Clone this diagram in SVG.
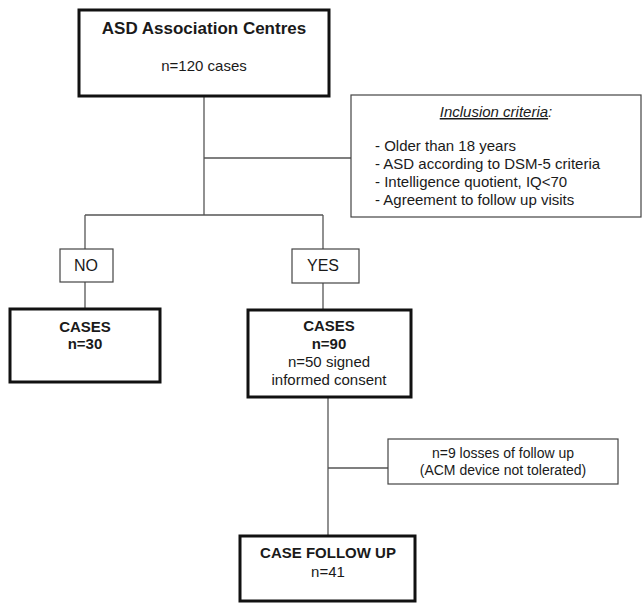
<svg xmlns="http://www.w3.org/2000/svg" width="643" height="604" viewBox="0 0 643 604">
<style>
text{font-family:"Liberation Sans",Arial,sans-serif;fill:#1a1a1a;text-anchor:middle}
text.l{text-anchor:start}
.b{font-weight:bold}
.thick{fill:#fff;stroke:#111;stroke-width:3}
.thin{fill:#fff;stroke:#444;stroke-width:1.2}
.ln{stroke:#555;stroke-width:1.3;fill:none}
</style>
<rect width="643" height="604" fill="#fff"/>
<g id="connectors">
<line class="ln" x1="204" y1="97" x2="204" y2="215"/>
<line class="ln" x1="204" y1="158" x2="351" y2="158"/>
<line class="ln" x1="85" y1="215" x2="323" y2="215"/>
<line class="ln" x1="85" y1="215" x2="85" y2="249"/>
<line class="ln" x1="85" y1="282" x2="85" y2="309"/>
<line class="ln" x1="323" y1="215" x2="323" y2="249"/>
<line class="ln" x1="323" y1="283" x2="323" y2="310"/>
<line class="ln" x1="328" y1="397" x2="328" y2="536"/>
<line class="ln" x1="328" y1="468" x2="388" y2="468"/>
</g>
<g id="asd-centres">
<rect class="thick" x="79" y="10" width="250" height="86"/>
<text class="b" x="204" y="34" font-size="17">ASD Association Centres</text>
<text x="204" y="71" font-size="15">n=120 cases</text>
</g>
<g id="inclusion">
<rect class="thin" x="351" y="95" width="290" height="122"/>
<text x="496" y="117" font-size="15" font-style="italic"><tspan text-decoration="underline">Inclusion criteria</tspan>:</text>
<text class="l" x="375" y="151" font-size="15">-  Older than 18 years</text>
<text class="l" x="375" y="169" font-size="15">-  ASD according to DSM-5 criteria</text>
<text class="l" x="375" y="187" font-size="15">-  Intelligence quotient, IQ&lt;70</text>
<text class="l" x="375" y="205" font-size="15">-  Agreement to follow up visits</text>
</g>
<g id="no">
<rect class="thin" x="60" y="249" width="53" height="33"/>
<text x="86" y="271" font-size="16">NO</text>
</g>
<g id="yes">
<rect class="thin" x="292" y="249" width="67" height="34"/>
<text x="323" y="271" font-size="16">YES</text>
</g>
<g id="cases-30">
<rect class="thick" x="10" y="309" width="150" height="73"/>
<text class="b" x="85" y="332" font-size="15">CASES</text>
<text class="b" x="85" y="349" font-size="15">n=30</text>
</g>
<g id="cases-90">
<rect class="thick" x="248" y="310" width="163" height="87"/>
<text class="b" x="329" y="331" font-size="15">CASES</text>
<text class="b" x="329" y="349" font-size="15">n=90</text>
<text x="329" y="367" font-size="15">n=50 signed</text>
<text x="329" y="385" font-size="15">informed consent</text>
</g>
<g id="losses">
<rect class="thin" x="388" y="439" width="230" height="45"/>
<text x="503" y="458" font-size="14">n=9 losses of follow up</text>
<text x="503" y="475" font-size="14">(ACM device not tolerated)</text>
</g>
<g id="follow-up">
<rect class="thick" x="240" y="536" width="175" height="65"/>
<text class="b" x="328" y="558" font-size="15">CASE FOLLOW UP</text>
<text x="328" y="577" font-size="15">n=41</text>
</g>
</svg>
